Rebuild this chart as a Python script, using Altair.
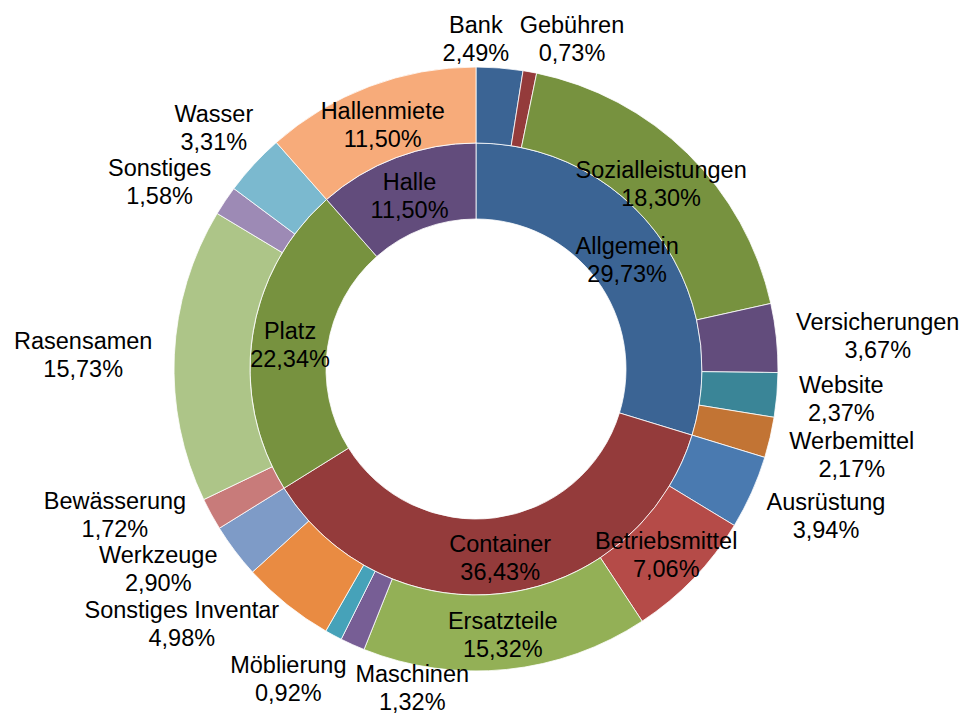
import math
import altair as alt
import pandas as pd

# ---------------- data ----------------
inner_names = ["Allgemein", "Container", "Platz", "Halle"]
inner_values = [29.73, 36.43, 22.34, 11.50]

outer_names = ["Bank", "Gebühren", "Sozialleistungen", "Versicherungen", "Website", "Werbemittel",
               "Ausrüstung", "Betriebsmittel", "Ersatzteile", "Maschinen", "Möblierung",
               "Sonstiges Inventar", "Werkzeuge",
               "Bewässerung", "Rasensamen", "Sonstiges", "Wasser",
               "Hallenmiete"]
outer_values = [2.49, 0.73, 18.30, 3.67, 2.37, 2.17,
                3.94, 7.06, 15.32, 1.32, 0.92,
                4.98, 2.90,
                1.72, 15.73, 1.58, 3.31,
                11.50]

# ---------------- palette ----------------
inner_colors = ["#3B6494", "#943B3B", "#77923F", "#624C7C"]
outer_colors = ["#3B6494", "#943B3B", "#77923F", "#624C7C", "#3A8597", "#C27434",
                "#4A7AB0", "#B54B48", "#93B056", "#775E95", "#46A2B9",
                "#E98B42", "#7E9BC7",
                "#C87B7A", "#ADC588", "#9D8AB5", "#7BB9CF",
                "#F7AB7A"]

# ---------------- layout ----------------
W, H = 952, 708
CX, CY = 468, 361
R_OUT, R_MID, R_IN = 302, 226, 150
FS, LH = 23.5, 28
GAP = 22
TEXT_DY = 4          # optical correction of the text block centre
FONT = "Liberation Sans"

CHAR_W = {" ": .278, "%": .889, ",": .278, "A": .667, "B": .667, "C": .722, "G": .778,
          "H": .722, "I": .278, "M": .833, "P": .667, "R": .722, "S": .667, "V": .667,
          "W": .944, "E": .667, "a": .556, "b": .556, "c": .5, "d": .556, "e": .556,
          "f": .278, "g": .556, "h": .556, "i": .222, "k": .5, "l": .222, "m": .833,
          "n": .556, "o": .556, "p": .556, "r": .333, "s": .5, "t": .278, "u": .556,
          "v": .5, "w": .722, "z": .5, "ä": .556, "ö": .556, "ü": .556}


def text_w(s):
    return sum(CHAR_W.get(ch, .556) for ch in s) * FS


def pct(v):
    return f"{v:.2f}".replace(".", ",") + "%"


def mid_angles(values):
    tot = sum(values)
    acc = 0.0
    out = []
    for v in values:
        out.append((acc + v / 2) / tot * 2 * math.pi)
        acc += v
    return out


def polar(r, a):
    return CX + r * math.sin(a), CY - r * math.cos(a)


H_COLL = 54
PAD_X = 8


def collide(a, b):
    return (abs(a["x"] - b["x"]) < (a["w"] + b["w"]) / 2 + PAD_X
            and abs(a["y"] - b["y"]) < H_COLL)


labels = []
inner_boxes = []
r_in_lab = (R_IN + R_MID) / 2
for name, v, a in zip(inner_names, inner_values, mid_angles(inner_values)):
    x, y = polar(r_in_lab, a)
    box = {"text": f"{name}\n{pct(v)}", "x": x, "y": y,
           "w": max(text_w(name), text_w(pct(v)))}
    inner_boxes.append(box)
    labels.append(box)

# outer labels: centred in the slice when it is large and clear of the inner labels,
# otherwise placed outside the ring
r_out_lab = (R_MID + R_OUT) / 2
outside = []
for name, v, a in zip(outer_names, outer_values, mid_angles(outer_values)):
    x, y = polar(r_out_lab, a)
    box = {"text": f"{name}\n{pct(v)}", "x": x, "y": y,
           "w": max(text_w(name), text_w(pct(v)))}
    if v >= 6 and not any(collide(box, b) for b in inner_boxes):
        labels.append(box)
    else:
        outside.append({"text": box["text"], "ang": a, "w": box["w"], "h": 2 * LH})

XMIN, XMAX, YMIN, YMAX = 0, W, 0, H


def place(lb):
    a = lb["ang"]
    s, c = math.sin(a), math.cos(a)
    ra = R_OUT + GAP
    x = CX + (ra + lb["w"] / 2) * s
    y = CY - (ra + lb["h"] / 2) * c
    x = min(max(x, XMIN + lb["w"] / 2), XMAX - lb["w"] / 2)
    y = min(max(y, YMIN + lb["h"] / 2), YMAX - lb["h"] / 2)
    return x, y


STEP = math.radians(0.25)
for _ in range(1000):
    moved = False
    order = sorted(range(len(outside)), key=lambda i: outside[i]["ang"])
    for i in order:
        outside[i]["x"], outside[i]["y"] = place(outside[i])
    for ii in range(len(order)):
        for jj in range(ii + 1, len(order)):
            i, j = order[ii], order[jj]
            if collide(outside[i], outside[j]):
                outside[i]["ang"] -= STEP
                outside[j]["ang"] += STEP
                moved = True
    if not moved:
        break

for lb in outside:
    x, y = place(lb)
    labels.append({"text": lb["text"], "x": x, "y": y, "w": lb["w"]})

lab_df = pd.DataFrame(labels)
# Vega puts the first line at y: shift so that the two-line block is centred,
# and keep the last line fully inside the drawing
lab_df["y"] = (lab_df["y"] - LH / 2 + TEXT_DY).clip(upper=H - LH - 13)

inner_df = pd.DataFrame({"name": inner_names, "value": inner_values,
                         "idx": list(range(len(inner_names)))})
outer_df = pd.DataFrame({"name": outer_names, "value": outer_values,
                         "idx": list(range(len(outer_names)))})

color_scale = alt.Scale(domain=inner_names + outer_names, range=inner_colors + outer_colors)


def ring(df, r0, r1):
    return alt.Chart(df).mark_arc(innerRadius=r0, outerRadius=r1, stroke="white",
                                  strokeWidth=0.8).encode(
        theta=alt.Theta("value:Q", stack=True),
        order=alt.Order("idx:Q"),
        color=alt.Color("name:N", scale=color_scale, legend=None),
        x=alt.value(CX),
        y=alt.value(CY),
    )


inner = ring(inner_df, R_IN, R_MID)
outer = ring(outer_df, R_MID, R_OUT)

text = alt.Chart(lab_df).mark_text(font=FONT, fontSize=FS, lineHeight=LH, lineBreak="\n",
                                   align="center", baseline="middle", color="black").encode(
    x=alt.X("x:Q", scale=None, axis=None),
    y=alt.Y("y:Q", scale=None, axis=None),
    text="text:N",
)

chart = alt.layer(inner, outer, text).resolve_scale(theta="independent").properties(
    width=W, height=H, autosize="none", padding=0
).configure_view(stroke=None)

chart.save("out.html", embed_options={"renderer": "svg", "actions": False})
